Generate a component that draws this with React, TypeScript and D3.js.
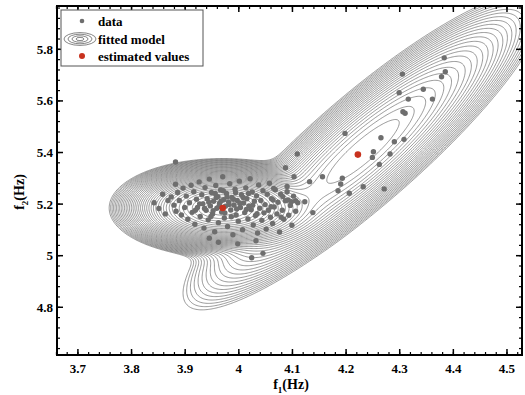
import * as d3 from 'd3';
import { useMemo } from 'react';

const W = 525;
const H = 395;
const margin = { top: 6, right: 3, bottom: 40, left: 57 };

// axis ticks
const f1Ticks = [3.7, 3.8, 3.9, 4, 4.1, 4.2, 4.3, 4.4, 4.5];
const f2Ticks = [4.8, 5, 5.2, 5.4, 5.6, 5.8];

// fitted two component gaussian mixture
const compMean = [
  [3.97, 5.185],
  [4.232, 5.405],
];
const compSigma = [
  [0.0559, 0.0506],
  [0.112, 0.205],
];
const compRho = [0.0, 0.895];
const compWeight = [0.8, 0.2];
const levelStep = 0.18; // spacing of contour levels in log density
const outerRadius = 3; // mahalanobis radius of the outermost level around comp 2

// estimated centres (red markers)
const estF1 = [3.97, 4.222];
const estF2 = [5.185, 5.392];

// observed (f1, f2) pairs
const samples: [number, number][] = [
  // cluster 1
  [3.842, 5.205], [3.851, 5.183], [3.858, 5.238], [3.863, 5.162], [3.868, 5.214],
  [3.874, 5.228], [3.879, 5.196], [3.883, 5.172], [3.886, 5.245], [3.889, 5.214],
  [3.893, 5.158], [3.896, 5.262], [3.899, 5.187], [3.902, 5.231], [3.905, 5.141],
  [3.908, 5.205], [3.911, 5.273], [3.913, 5.168], [3.916, 5.248], [3.918, 5.122],
  [3.921, 5.219], [3.923, 5.187], [3.926, 5.286], [3.928, 5.152], [3.931, 5.236],
  [3.933, 5.201], [3.935, 5.107], [3.937, 5.264], [3.939, 5.176], [3.941, 5.221],
  [3.943, 5.139], [3.945, 5.297], [3.947, 5.193], [3.949, 5.245], [3.951, 5.162],
  [3.953, 5.211], [3.955, 5.093], [3.957, 5.272], [3.959, 5.184], [3.961, 5.229],
  [3.962, 5.128], [3.964, 5.203], [3.966, 5.255], [3.968, 5.169], [3.970, 5.306],
  [3.972, 5.217], [3.973, 5.146], [3.975, 5.192], [3.977, 5.241], [3.979, 5.113],
  [3.981, 5.208], [3.983, 5.279], [3.985, 5.177], [3.987, 5.226], [3.989, 5.081],
  [3.991, 5.196], [3.993, 5.258], [3.995, 5.158], [3.997, 5.214], [3.999, 5.134],
  [4.001, 5.289], [4.003, 5.187], [4.005, 5.236], [4.007, 5.101], [4.009, 5.204],
  [4.011, 5.167], [4.013, 5.263], [4.015, 5.221], [4.017, 5.142], [4.019, 5.193],
  [4.021, 5.298], [4.023, 5.178], [4.025, 5.247], [4.027, 5.119], [4.029, 5.211],
  [4.031, 5.156], [4.033, 5.232], [4.035, 5.088], [4.037, 5.274], [4.039, 5.184],
  [4.041, 5.214], [4.043, 5.137], [4.045, 5.252], [4.047, 5.166], [4.049, 5.198],
  [4.051, 5.103], [4.053, 5.238], [4.055, 5.176], [4.057, 5.281], [4.059, 5.149],
  [4.061, 5.221], [4.063, 5.125], [4.066, 5.189], [4.068, 5.256], [4.071, 5.162],
  [4.073, 5.207], [4.076, 5.092], [4.078, 5.238], [4.081, 5.176], [4.084, 5.141],
  [4.087, 5.213], [4.090, 5.268], [4.093, 5.157], [4.096, 5.195], [4.099, 5.118],
  [4.102, 5.231], [4.106, 5.172], [4.110, 5.205],
  [3.936, 5.183], [3.944, 5.207], [3.952, 5.174], [3.958, 5.226], [3.963, 5.191],
  [3.967, 5.212], [3.974, 5.166], [3.978, 5.228], [3.982, 5.198], [3.986, 5.151],
  [3.990, 5.219], [3.996, 5.181], [4.002, 5.203], [4.008, 5.226], [4.014, 5.179],
  [3.948, 5.152], [3.956, 5.241], [3.971, 5.252], [3.994, 5.244], [4.018, 5.241],
  [3.927, 5.201], [3.919, 5.176], [4.026, 5.196], [4.034, 5.163],
  [3.962, 5.052], [3.998, 5.046], [4.032, 5.058], [3.945, 5.068],
  [3.882, 5.363], [3.882, 5.277],
  // cluster 2
  [4.383, 5.767], [4.385, 5.713], [4.378, 5.694], [4.305, 5.704], [4.344, 5.645],
  [4.299, 5.632], [4.361, 5.607], [4.316, 5.607], [4.306, 5.558], [4.310, 5.552],
  [4.198, 5.474], [4.265, 5.457], [4.308, 5.451], [4.290, 5.442], [4.109, 5.394],
  [4.251, 5.403], [4.282, 5.394], [4.249, 5.381], [4.262, 5.354], [4.087, 5.341],
  [4.103, 5.306], [4.132, 5.287], [4.156, 5.306], [4.193, 5.300], [4.190, 5.278],
  [4.185, 5.252], [4.232, 5.267], [4.271, 5.259], [4.206, 5.242], [4.065, 5.261],
  [4.090, 5.248], [4.082, 5.229], [4.092, 5.216], [4.098, 5.209], [4.106, 5.213],
  [4.123, 5.209], [4.060, 5.190], [4.079, 5.149], [4.138, 5.167], [4.064, 5.216],
  [4.045, 5.009], [4.024, 4.992],
];

const x = d3.scaleLinear().domain([3.661, 4.528]).range([margin.left, W - margin.right]);
const y = d3.scaleLinear().domain([4.615, 5.968]).range([H - margin.bottom, margin.top]);

const logComp = (k: number, a: number, b: number) => {
  const [mx, my] = compMean[k];
  const [sx, sy] = compSigma[k];
  const r = compRho[k];
  const dx = (a - mx) / sx;
  const dy = (b - my) / sy;
  const q = (dx * dx - 2 * r * dx * dy + dy * dy) / (1 - r * r);
  return Math.log(compWeight[k]) - q / 2 - Math.log(2 * Math.PI * sx * sy * Math.sqrt(1 - r * r));
};

const logDensity = (a: number, b: number) => {
  const t = compMean.map((_, k) => logComp(k, a, b));
  const m = Math.max(...t);
  return m + Math.log(t.reduce((s, v) => s + Math.exp(v - m), 0));
};

export default function App() {
  const contourPaths = useMemo(() => {
    const step = 1.25;
    const pad = 8;
    const x0 = margin.left - pad;
    const y0 = margin.top - pad;
    const nx = Math.ceil((W - margin.right - margin.left + 2 * pad) / step);
    const ny = Math.ceil((H - margin.bottom - margin.top + 2 * pad) / step);
    const values = new Array(nx * ny);
    for (let j = 0; j < ny; j++) {
      const b = y.invert(y0 + (j + 0.5) * step);
      for (let i = 0; i < nx; i++) {
        values[j * nx + i] = logDensity(x.invert(x0 + (i + 0.5) * step), b);
      }
    }
    const [sx, sy] = compSigma[1];
    const r = compRho[1];
    const floor =
      Math.log(compWeight[1]) -
      Math.log(2 * Math.PI * sx * sy * Math.sqrt(1 - r * r)) -
      (outerRadius * outerRadius) / 2;
    const peak = logDensity(compMean[0][0], compMean[0][1]);
    const levels = d3.range(floor, peak, levelStep);
    const cs = d3.contours().size([nx, ny]).thresholds(levels)(values);
    const path = d3.geoPath(d3.geoIdentity().scale(step).translate([x0, y0]) as any);
    return cs.map((c) => path(c) ?? '');
  }, []);

  const plotL = margin.left;
  const plotR = W - margin.right;
  const plotT = margin.top;
  const plotB = H - margin.bottom;
  const minorX = d3.range(3.66, 4.53, 0.02).map((v) => +v.toFixed(2));
  const minorY = d3.range(4.64, 5.97, 0.04).map((v) => +v.toFixed(2));
  const font = '"Liberation Serif", "Times New Roman", serif';

  return (
    <svg width={W} height={H} style={{ position: 'absolute', left: 0, top: 0, background: '#fff' }} fontFamily={font}>
      <defs>
        <clipPath id="plot-clip">
          <rect x={plotL} y={plotT} width={plotR - plotL} height={plotB - plotT} />
        </clipPath>
      </defs>
      <g clipPath="url(#plot-clip)">
        {contourPaths.map((d, i) => (
          <path key={i} d={d} fill="none" stroke="#555" strokeWidth={0.6} />
        ))}
        {samples.map(([a, b], i) => (
          <circle key={i} cx={x(a)} cy={y(b)} r={2.7} fill="#6e6e6e" />
        ))}
        {estF1.map((a, i) => (
          <circle key={i} cx={x(a)} cy={y(estF2[i])} r={3.3} fill="#c8321e" />
        ))}
      </g>

      {/* ticks on all four sides, pointing inward */}
      {minorX.map((v) => (
        <g key={'mx' + v}>
          <line x1={x(v)} x2={x(v)} y1={plotB} y2={plotB - 3} stroke="#000" strokeWidth={1.2} />
          <line x1={x(v)} x2={x(v)} y1={plotT} y2={plotT + 3} stroke="#000" strokeWidth={1.2} />
        </g>
      ))}
      {minorY.map((v) => (
        <g key={'my' + v}>
          <line x1={plotL} x2={plotL + 3} y1={y(v)} y2={y(v)} stroke="#000" strokeWidth={1.2} />
          <line x1={plotR} x2={plotR - 3} y1={y(v)} y2={y(v)} stroke="#000" strokeWidth={1.2} />
        </g>
      ))}
      {f1Ticks.map((v) => (
        <g key={'x' + v}>
          <line x1={x(v)} x2={x(v)} y1={plotB} y2={plotB - 6} stroke="#000" strokeWidth={1.5} />
          <line x1={x(v)} x2={x(v)} y1={plotT} y2={plotT + 6} stroke="#000" strokeWidth={1.5} />
          <text x={x(v)} y={plotB + 18} textAnchor="middle" fontSize={13} fontWeight="bold">
            {String(v)}
          </text>
        </g>
      ))}
      {f2Ticks.map((v) => (
        <g key={'y' + v}>
          <line x1={plotL} x2={plotL + 6} y1={y(v)} y2={y(v)} stroke="#000" strokeWidth={1.5} />
          <line x1={plotR} x2={plotR - 6} y1={y(v)} y2={y(v)} stroke="#000" strokeWidth={1.5} />
          <text x={plotL - 4} y={y(v) + 4.5} textAnchor="end" fontSize={13} fontWeight="bold">
            {String(v)}
          </text>
        </g>
      ))}
      <rect x={plotL} y={plotT} width={plotR - plotL} height={plotB - plotT} fill="none" stroke="#000" strokeWidth={2} />

      {/* axis titles */}
      <text x={291} y={389} textAnchor="middle" fontSize={14} fontWeight="bold">
        f<tspan fontSize={9} dy={4}>1</tspan>
        <tspan dy={-4}>(Hz)</tspan>
      </text>
      <text transform="translate(24,192) rotate(-90)" textAnchor="middle" fontSize={14} fontWeight="bold">
        f<tspan fontSize={9} dy={4}>2</tspan>
        <tspan dy={-4}>(Hz)</tspan>
      </text>

      {/* legend */}
      <g>
        <rect x={61} y={10} width={142} height={56} fill="#fff" stroke="#555" strokeWidth={1} />
        <circle cx={82} cy={21} r={2.3} fill="#6e6e6e" />
        <text x={98} y={26} fontSize={13} fontWeight="bold">data</text>
        {[16, 12, 8, 4].map((rx) => (
          <ellipse key={rx} cx={80} cy={39} rx={rx} ry={rx * 0.4} fill="none" stroke="#666" strokeWidth={0.8} />
        ))}
        <text x={98} y={44} fontSize={13} fontWeight="bold">fitted model</text>
        <circle cx={82} cy={56} r={3} fill="#c8321e" />
        <text x={98} y={61} fontSize={13} fontWeight="bold">estimated values</text>
      </g>
    </svg>
  );
}
